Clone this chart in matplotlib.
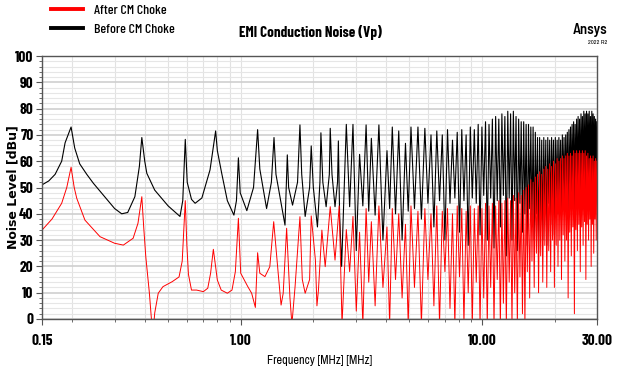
import numpy as np
import matplotlib
matplotlib.use('Agg')
import matplotlib.pyplot as plt
from matplotlib.lines import Line2D
from matplotlib.ticker import FixedLocator, NullFormatter, MultipleLocator

plt.rcParams['font.family'] = ['Archivo Narrow', 'DejaVu Sans']
BOLD_NARROW = ['Barlow Semi Condensed', 'DejaVu Sans']
BOLD_CONDENSED = ['Barlow Condensed', 'DejaVu Sans']

# --- low frequency part, traced point by point (MHz, dBu)
blk_f = [0.150, 0.160, 0.170, 0.181, 0.187, 0.198, 0.205, 0.215, 0.230, 0.245, 0.270, 0.300,
         0.321, 0.340, 0.364, 0.380, 0.389, 0.400, 0.408, 0.440, 0.500, 0.560, 0.575, 0.589,
         0.600, 0.625, 0.647, 0.690, 0.746, 0.787, 0.800, 0.834, 0.880, 0.937, 0.960, 0.978,
         0.995, 1.06, 1.13, 1.175, 1.20, 1.28, 1.34, 1.374, 1.40, 1.526, 1.56, 1.58, 1.64,
         1.72, 1.76, 1.79, 1.85, 1.93, 1.96, 2.00, 2.08, 2.13, 2.15, 2.19, 2.26, 2.33, 2.35,
         2.39, 2.46, 2.52, 2.54, 2.57, 2.62]
blk_db = [51, 52.5, 55, 60, 67, 73, 65, 59, 55, 51.6, 47, 42,
          40, 40.5, 46.5, 58, 69, 60, 55.4, 49, 43, 39, 45, 68.3,
          52, 45.5, 44, 46, 56.7, 71.5, 64, 55.4, 45, 39.5, 45, 61.3,
          48, 41.2, 50, 72, 57, 42, 52, 69, 55, 35.7, 62.4, 50, 43.3,
          52, 73.8, 55, 39, 50, 65.8, 50, 35, 52, 70.8, 52, 42.7, 55, 72.5,
          55, 42.7, 52, 67.7, 40, 20]

red_f = [0.150, 0.165, 0.181, 0.190, 0.198, 0.204, 0.209, 0.226, 0.261, 0.300, 0.326, 0.358,
         0.375, 0.389, 0.396, 0.404, 0.418, 0.428, 0.436, 0.440, 0.455, 0.476, 0.520, 0.555,
         0.572, 0.589, 0.598, 0.607, 0.625, 0.656, 0.700, 0.730, 0.750, 0.770, 0.800, 0.830,
         0.880, 0.920, 0.950, 0.978, 1.00, 1.07, 1.11, 1.15, 1.175, 1.20, 1.26, 1.32, 1.37,
         1.43, 1.47, 1.50, 1.55, 1.60, 1.63, 1.68, 1.76, 1.80, 1.85, 1.93, 1.96, 2.04, 2.07,
         2.10, 2.17, 2.24, 2.35, 2.46, 2.56, 2.63]
red_db = [33.8, 38, 44, 50, 57.7, 50, 45.9, 37.6, 31.3, 28.8, 28.1, 30.7,
          36.4, 46.5, 35, 23.7, 10, -2, -2, 2.3, 9.8, 12.3, 14.2, 16,
          22, 45, 28, 17, 11, 11, 10.4, 11.7, 17.4, 26.5, 14.8, 11,
          9.8, 11, 18, 38.3, 17.4, 12.3, 9.8, 4.4, 25.2, 17.4, 16.1, 19.9, 37,
          17.4, 5.3, 9.8, 34.5, 8, -2, 12.3, 38.9, 15, 9.8, 15, 39.2, 22.4, 5,
          11, 33.8, 19.9, 42.7, 22.4, 43, -2]

# --- dense resonance part: peak frequency, then peak / following dip for each trace
res_f = [2.74, 2.92, 3.11, 3.31, 3.48, 3.74, 4.04, 4.25, 4.52, 4.82, 5.08, 5.43, 5.80,
         6.15, 6.50, 6.85, 7.20, 7.55, 7.90, 8.25, 8.60, 8.95, 9.30, 9.65, 10.0, 10.35,
         10.7, 11.05, 11.4, 11.75, 12.1, 12.45, 12.8, 13.15, 13.5, 13.85, 14.2, 14.55,
         14.9, 15.25, 15.6, 15.95, 16.3, 16.65, 17.0, 17.35, 17.7, 18.05, 18.4, 18.75,
         19.1, 19.45, 19.8, 20.15, 20.5, 20.85, 21.2, 21.55, 21.9, 22.25, 22.6, 22.95,
         23.3, 23.65, 24.0, 24.35, 24.7, 25.05, 25.4, 25.75, 26.1, 26.45, 26.8, 27.15,
         27.5, 27.85, 28.2, 28.55, 28.9, 29.25, 29.6, 29.95]
blk_pk = [74, 74, 62.6, 73.8, 68.7, 73.8, 64, 73, 71.5, 66.8, 73, 73, 72.5,
          70, 71.5, 70, 72, 68, 71, 72, 70, 73, 72, 74, 73, 75,
          74, 76, 77, 76, 78, 77, 79, 78, 79, 77, 76, 75,
          75, 74, 74, 73, 73, 71, 69, 69, 68, 69, 68, 69,
          68, 69, 68, 69, 68, 69, 68, 70, 69, 70, 71, 72,
          73, 74, 75, 74, 76, 77, 76, 78, 77, 79, 78, 79,
          78, 79, 77, 79, 78, 77, 76, 75]
blk_vl = [42.7, 26, 43, 41, 39.5, 30, 42, 40, 30, 41, 42, 38, 44,
          35, 45, 30, 44, 46, 33, 45, 28, 46, 44, 32, 47, 30,
          46, 27, 45, 35, 47, 24, 46, 30, 45, 26, 44, 33,
          40, 28, 42, 35, 30, 40, 25, 38, 30, 42, 28, 44,
          36, 45, 32, 46, 40, 47, 38, 48, 42, 47, 40, 48,
          44, 49, 42, 50, 45, 49, 44, 50, 46, 51, 45, 50,
          47, 51, 46, 50, 48, 49, 47]
red_pk = [34, 39, 33, 42, 37, 43, 35, 42, 40, 36, 43, 41, 42,
          40, 43, 41, 42, 40, 43, 42, 41, 43, 42, 43, 42, 44,
          43, 44, 43, 45, 44, 45, 46, 45, 47, 46, 48, 47,
          49, 50, 51, 53, 52, 54, 55, 56, 55, 57, 58, 57,
          59, 58, 60, 59, 61, 60, 61, 62, 61, 62, 63, 62,
          63, 62, 64, 63, 64, 63, 64, 63, 64, 63, 64, 62,
          63, 61, 62, 61, 62, 60, 61, 60]
red_vl = [18, 3, -2, 14, 5, 12, -2, 15, 8, -2, 12, -2, 15,
          5, -2, 18, 4, -2, 16, -2, 10, -2, 14, -2, 8, -2,
          12, -2, 15, -2, 6, -2, 14, -2, 10, -2, 16, 2,
          -2, 18, 8, 22, 12, 25, 10, 24, 14, 28, 12, 26,
          18, 30, 12, 28, 20, 30, 15, 32, 22, 30, 8, 33,
          24, 35, 2, 34, 26, 36, 18, 35, 28, 37, 15, 36,
          30, 38, 20, 36, 25, 38, 30]


def resonance_trace(f0, v0, peaks, dips):
    xs, ys = list(f0), list(v0)
    for i, f in enumerate(res_f):
        xs.append(f)
        ys.append(peaks[i])
        if i < len(res_f) - 1:
            xs.append(np.sqrt(f * res_f[i + 1]))
            ys.append(dips[i])
    return xs, ys


bx, by = resonance_trace(blk_f, blk_db, blk_pk, blk_vl)
rx, ry = resonance_trace(red_f, red_db, red_pk, red_vl)

fig = plt.figure(figsize=(6.21, 3.76), dpi=100)
ax = fig.add_axes([42 / 621, 1 - 319 / 376, 555 / 621, 263 / 376])

ax.plot(bx, by, color='black', lw=0.8)
ax.plot(rx, ry, color='#ff0000', lw=0.7)

ax.set_xscale('log')
ax.set_xlim(0.15, 30)
ax.set_ylim(0, 100)

ax.xaxis.set_major_locator(FixedLocator([0.15, 1.0, 10.0, 30.0]))
ax.xaxis.set_minor_locator(FixedLocator([0.2, 0.3, 0.4, 0.5, 0.6, 0.7, 0.8, 0.9,
                                         2, 3, 4, 5, 6, 7, 8, 9, 20]))
ax.set_xticklabels(['0.15', '1.00', '10.00', '30.00'])
ax.xaxis.set_minor_formatter(NullFormatter())
ax.yaxis.set_major_locator(MultipleLocator(10))
ax.yaxis.set_minor_locator(MultipleLocator(2))

ax.grid(which='major', axis='y', color='#cfcfcf', lw=1.2)
ax.grid(which='minor', axis='y', color='#e6e6e6', lw=0.8)
ax.grid(which='both', axis='x', color='#e2e2e2', lw=0.8)
ax.set_axisbelow(True)

for s in ax.spines.values():
    s.set_color('#555555')
    s.set_linewidth(1.0)

ax.tick_params(which='both', direction='out', colors='#555555', labelcolor='black')
ax.tick_params(which='major', length=4)
ax.tick_params(which='minor', length=2)
ax.tick_params(axis='x', which='major', pad=7)
ax.tick_params(axis='y', which='major', pad=2)
for lab in ax.get_yticklabels() + ax.get_xticklabels():
    lab.set_fontweight('bold')
    lab.set_family(BOLD_CONDENSED)
    lab.set_fontsize(11)

ax.set_xlabel('Frequency [MHz] [MHz]', fontsize=8.8)
ax.xaxis.set_label_coords(0.5, -0.135)
ax.set_ylabel('Noise Level [dBu]', fontsize=9, fontweight='bold', family=['DejaVu Sans'])
ax.yaxis.set_label_coords(-0.04, 0.5)

fig.text(0.5, 1 - 33 / 376, 'EMI Conduction Noise (Vp)', ha='center', va='center',
         fontsize=10.8, fontweight='bold', family=BOLD_CONDENSED)
fig.text(607 / 621, 1 - 30 / 376, 'Ansys', ha='right', va='center', fontsize=10.5,
         fontweight='semibold', family=BOLD_NARROW)
fig.text(607 / 621, 1 - 42 / 376, '2022 R2', ha='right', va='center', fontsize=4.5)

handles = [Line2D([], [], color='#ff0000', lw=2.8), Line2D([], [], color='black', lw=2.8)]
fig.legend(handles, ['After CM Choke', 'Before CM Choke'], loc='upper left',
           bbox_to_anchor=(44 / 621, 1.008), frameon=False,
           prop={'family': BOLD_CONDENSED, 'size': 10, 'weight': 'medium'},
           handlelength=2.3, labelspacing=0.5, borderaxespad=0.1, handletextpad=0.8)

fig.savefig('out.png', dpi=100)
